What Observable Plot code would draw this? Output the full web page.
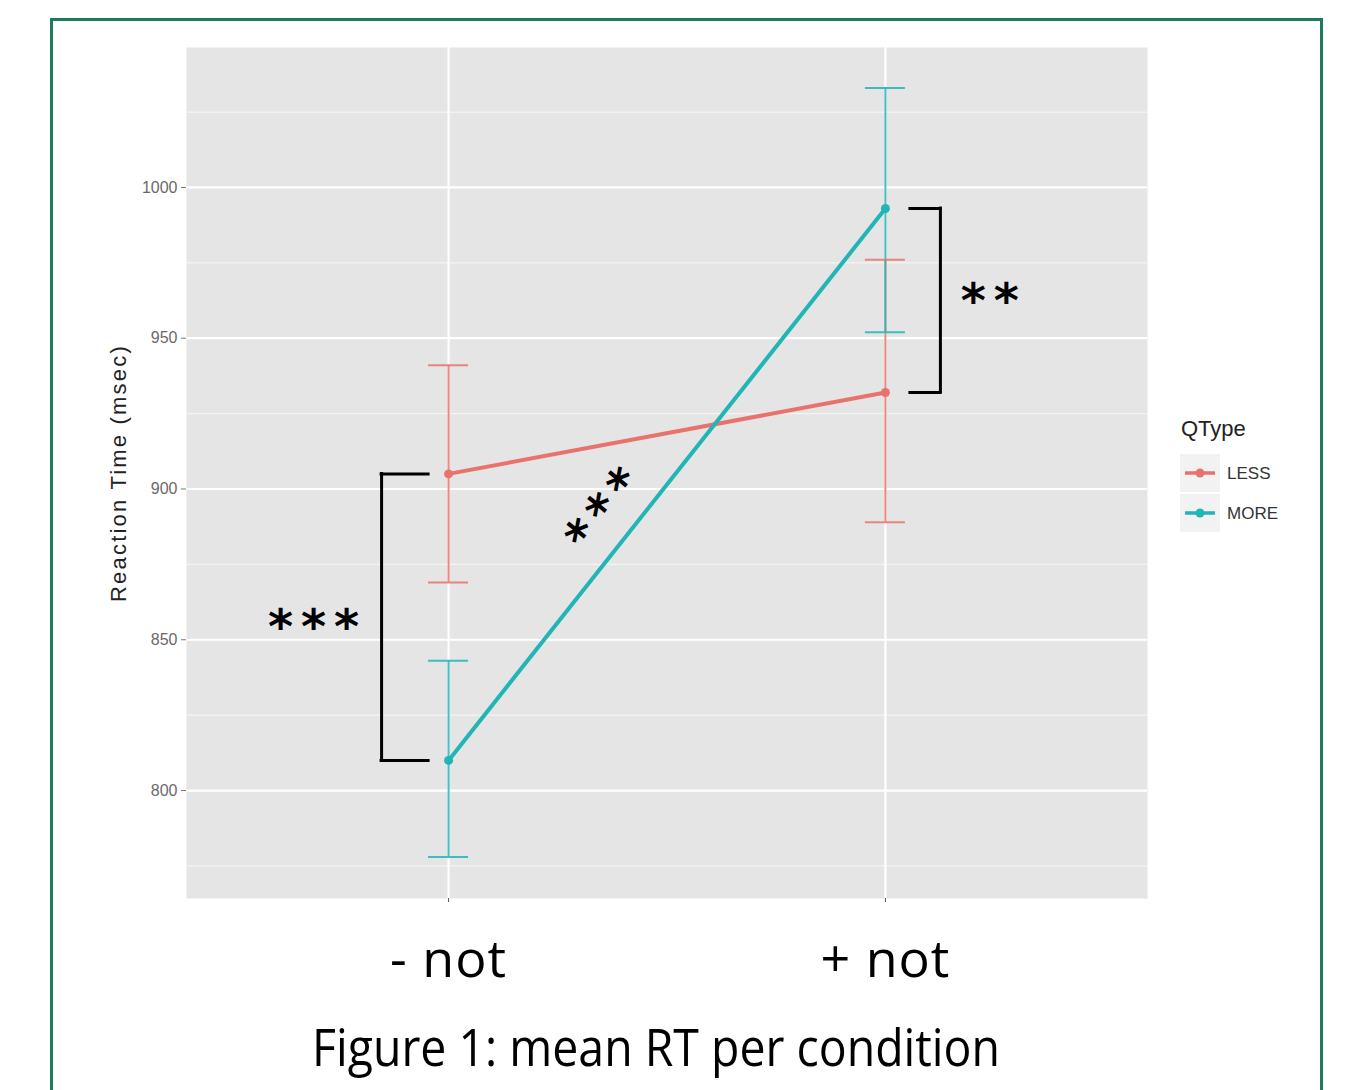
<!DOCTYPE html>
<html><head><meta charset="utf-8">
<script src="https://cdn.jsdelivr.net/npm/d3@7"></script>
<script src="https://cdn.jsdelivr.net/npm/@observablehq/plot@0.6"></script>
<style>
body{margin:0;background:#fff;width:1357px;height:1090px;overflow:hidden;position:relative;font-family:"Liberation Sans",Arial,sans-serif}
#frame{position:absolute;left:50px;top:18px;width:1273px;height:1100px;box-sizing:border-box;border:3px solid #1e7a5d;border-bottom:none}
#chart{position:absolute;left:0;top:0}
#legend{position:absolute;left:1170px;top:405px}
#caption{position:absolute;left:0;top:1010px}
</style></head><body>
<div id="frame"></div>
<div id="chart"></div>
<div id="legend"></div>
<div id="caption"></div>
<script>
// ---- data ----
const conditions = ["- not", "+ not"];
const qtypes = ["LESS", "MORE"];
const lessMean = [905, 932];
const lessLo = [869, 889];
const lessHi = [941, 976];
const moreMean = [810, 993];
const moreLo = [778, 952];
const moreHi = [843, 1033];
const yTicks = [800, 850, 900, 950, 1000];
const yMinor = [775, 825, 875, 925, 975, 1025];
const colors = ["#e8736c", "#22b5b6"];
const legendTitle = "QType";
const yLabel = "Reaction Time (msec)";
const captionText = "Figure 1: mean RT per condition";
// significance annotations (data coords)
const sigLabels = [
  {x: 0.70, y: 854, text: "***", rotate: 0},
  {x: 1.362, y: 894, text: "***", rotate: -51},
  {x: 2.248, y: 962, text: "**", rotate: 0}
];

// ---- build tables ----
const rows = [];
conditions.forEach((c, i) => {
  rows.push({cond: i + 1, qtype: "LESS", mean: lessMean[i], lo: lessLo[i], hi: lessHi[i]});
  rows.push({cond: i + 1, qtype: "MORE", mean: moreMean[i], lo: moreLo[i], hi: moreHi[i]});
});
const leftBracket = [{x: 1, y1: lessMean[0], y2: moreMean[0]}];
const leftEnds = [{x: 1, y: lessMean[0]}, {x: 1, y: moreMean[0]}];
const rightBracket = [{x: 2, y1: moreMean[1], y2: lessMean[1]}];
const rightEnds = [{x: 2, y: moreMean[1]}, {x: 2, y: lessMean[1]}];

const chart = Plot.plot({
  width: 1357,
  height: 1000,
  marginLeft: 186,
  marginRight: 210,
  marginTop: 47,
  marginBottom: 102,
  style: {fontFamily: "Liberation Sans, Arial, sans-serif", background: "transparent"},
  x: {type: "linear", domain: [0.4, 2.6], axis: null},
  y: {domain: [764.2, 1046.4], axis: null},
  color: {domain: qtypes, range: colors},
  marks: [
    Plot.frame({fill: "#e5e5e5", stroke: "none"}),
    Plot.ruleY(yMinor, {stroke: "#f4f4f4", strokeWidth: 1.2}),
    Plot.ruleY(yTicks, {stroke: "white", strokeWidth: 2.2}),
    Plot.ruleX([1, 2], {stroke: "white", strokeWidth: 2.2}),
    Plot.axisY(yTicks, {tickFormat: d3.format("d"), tickSize: 5, tickPadding: 4, fontSize: 16, fill: "#6a6a6a", stroke: "#777", label: null}),
    Plot.text([yLabel], {frameAnchor: "left", dx: -68, rotate: -90, textAnchor: "middle", fontSize: 22, fill: "#222"}),
    Plot.axisX([1, 2], {tickFormat: d => conditions[d - 1], fontSize: 52, fontFamily: "Open Sans, sans-serif", fill: "black", tickSize: 4, tickPadding: 38, stroke: "#555", label: null}),
    // error bars
    Plot.ruleX(rows, {x: "cond", y1: "lo", y2: "hi", stroke: "qtype", strokeWidth: 2, strokeOpacity: 0.85}),
    Plot.ruleY(rows, {y: "lo", x1: "cond", x2: "cond", stroke: "qtype", strokeWidth: 2, strokeOpacity: 0.85, insetLeft: -20, insetRight: -20}),
    Plot.ruleY(rows, {y: "hi", x1: "cond", x2: "cond", stroke: "qtype", strokeWidth: 2, strokeOpacity: 0.85, insetLeft: -20, insetRight: -20}),
    // lines and points
    Plot.line(rows, {x: "cond", y: "mean", z: "qtype", stroke: "qtype", strokeWidth: 4}),
    Plot.dot(rows, {x: "cond", y: "mean", fill: "qtype", r: 4.5}),
    // brackets
    Plot.ruleX(leftBracket, {x: "x", y1: "y1", y2: "y2", dx: -67, stroke: "black", strokeWidth: 3, strokeLinecap: "square"}),
    Plot.ruleY(leftEnds, {y: "y", x1: "x", x2: "x", insetLeft: -67, insetRight: 20, stroke: "black", strokeWidth: 3, strokeLinecap: "square"}),
    Plot.ruleX(rightBracket, {x: "x", y1: "y1", y2: "y2", dx: 55, stroke: "black", strokeWidth: 3, strokeLinecap: "square"}),
    Plot.ruleY(rightEnds, {y: "y", x1: "x", x2: "x", insetLeft: 25, insetRight: -55, stroke: "black", strokeWidth: 3, strokeLinecap: "square"}),
    // significance stars
    Plot.text(sigLabels, {x: "x", y: "y", text: "text", rotate: "rotate", fontSize: 48, fontWeight: "bold", fill: "black", fontFamily: "DejaVu Sans, sans-serif"})
  ]
});
// letter spacing tweaks (style only)
d3.select(chart).selectAll("text").each(function() {
  const t = this.textContent;
  if (t === yLabel) this.setAttribute("letter-spacing", "2.2");
  else if (conditions.includes(t)) this.setAttribute("letter-spacing", "1");
  else if (/^\*+$/.test(t)) this.setAttribute("letter-spacing", "8");
});
document.getElementById("chart").appendChild(chart);

// legend
const ns = "http://www.w3.org/2000/svg";
let leg = `<svg xmlns="${ns}" width="130" height="140" style="font-family:'Liberation Sans',Arial,sans-serif">`;
leg += `<text x="11" y="31" font-size="22" fill="#222">${legendTitle}</text>`;
qtypes.forEach((q, i) => {
  const cy = 68 + i * 40;
  leg += `<rect x="10" y="${cy - 19}" width="40" height="38" fill="#f2f2f2"/>`;
  leg += `<line x1="15" x2="45" y1="${cy}" y2="${cy}" stroke="${colors[i]}" stroke-width="3.5"/>`;
  leg += `<circle cx="30" cy="${cy}" r="4.5" fill="${colors[i]}"/>`;
  leg += `<text x="57" y="${cy + 6}" font-size="17" fill="#333">${q}</text>`;
});
leg += `</svg>`;
document.getElementById("legend").innerHTML = leg;

// caption
document.getElementById("caption").innerHTML =
  `<svg xmlns="${ns}" width="1357" height="80"><text x="312" y="56" font-size="51" textLength="688" lengthAdjust="spacingAndGlyphs" font-family="Open Sans, sans-serif" fill="#000">${captionText}</text></svg>`;
</script>
</body></html>
